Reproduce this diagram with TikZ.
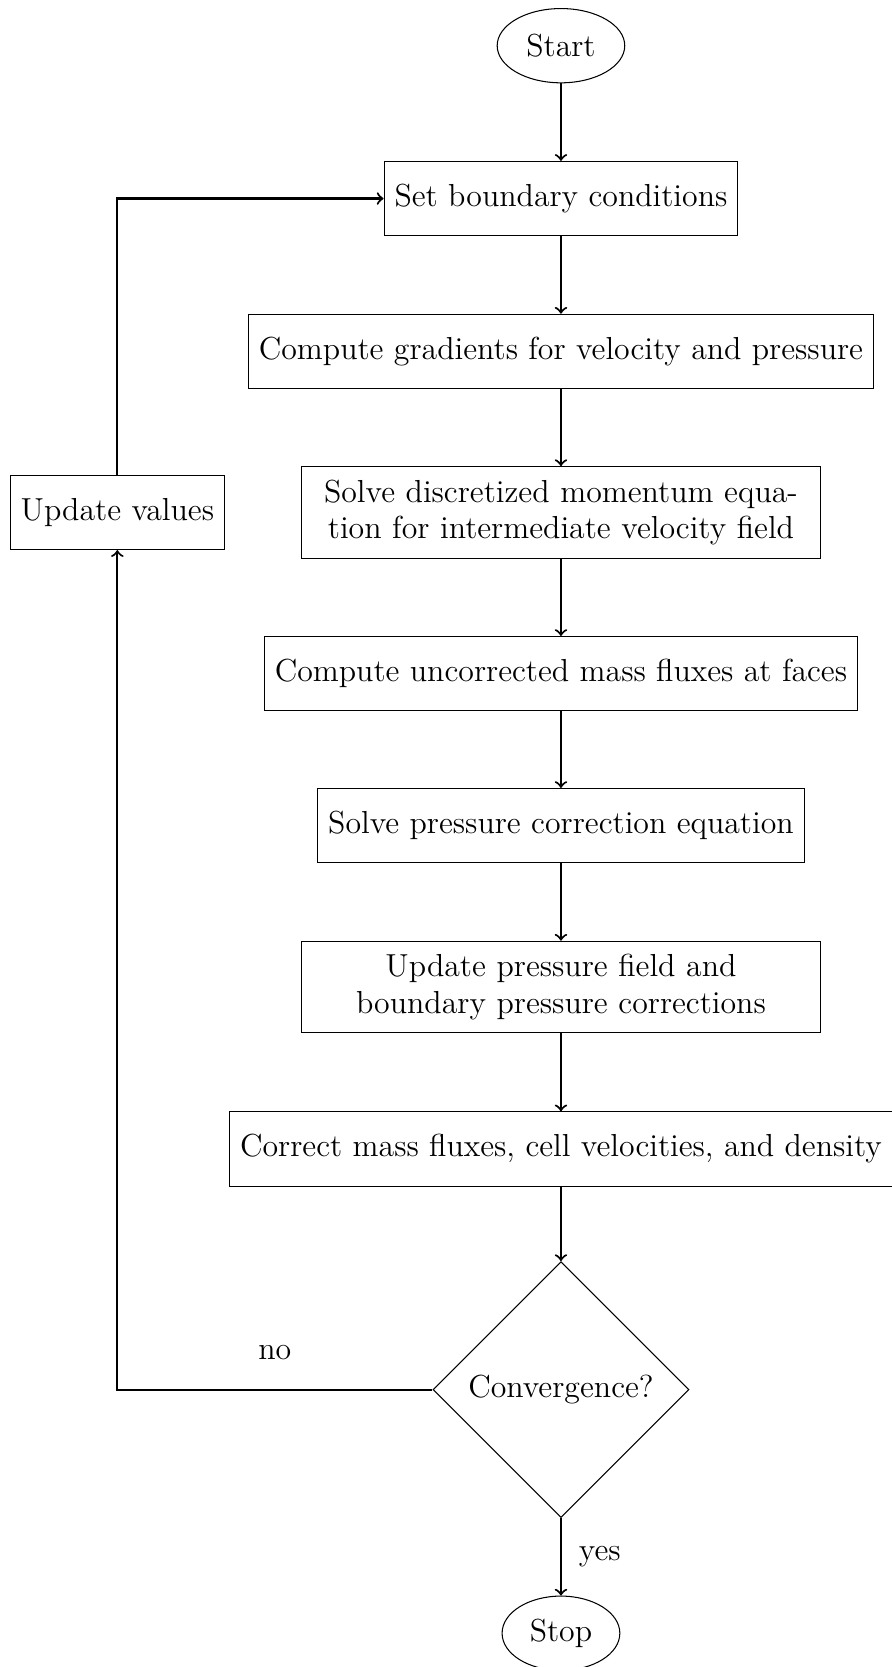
\documentclass[tikz,border=0pt,12pt]{standalone}
\usetikzlibrary{shapes.geometric}
\begin{document}
\begin{tikzpicture}[font=\fontsize{12.2}{14.05}\selectfont]
        \tikzstyle{terminal}=[ellipse, draw, minimum height=1cm]
        \tikzstyle{process}=[rectangle, draw, minimum height=1cm, align=center]
        \tikzstyle{processtw}=[process, text width=6.7cm, minimum height=1.235cm]
        \tikzstyle{decision}=[diamond, draw, aspect=1]
        \tikzstyle{arrow}=[thick, ->]

        \useasboundingbox (0,0) rectangle (12.01,-22.445);

        \node[terminal]  (start)    at (7.553,-0.615) {Start};
        \node[process]   (setbc)    at (7.553,-2.673) {Set boundary conditions};
        \node[process]   (grad)     at (7.553,-4.731) {Compute gradients for velocity and pressure};
        \node[processtw] (momentum) at (7.553,-6.90)  {Solve discretized momentum equation for intermediate velocity field};
        \node[process]   (flux)     at (7.553,-9.07)  {Compute uncorrected mass fluxes at faces};
        \node[process]   (pcorr)    at (7.553,-11.116) {Solve pressure correction equation};
        \node[processtw] (pupdate)  at (7.553,-13.29) {Update pressure field and\\ boundary pressure corrections};
        \node[process]   (correct)  at (7.553,-15.47) {Correct mass fluxes, cell velocities, and density};
        \node[decision]  (conv)     at (7.553,-18.71) {Convergence?};
        \node[terminal]  (stop)     at (7.553,-21.99) {Stop};
        \node[process]   (update)   at (1.58,-6.90)   {Update values};

        \draw[arrow] (start) -- (setbc);
        \draw[arrow] (setbc) -- (grad);
        \draw[arrow] (grad) -- (momentum);
        \draw[arrow] (momentum) -- (flux);
        \draw[arrow] (flux) -- (pcorr);
        \draw[arrow] (pcorr) -- (pupdate);
        \draw[arrow] (pupdate) -- (correct);
        \draw[arrow] (correct) -- (conv);
        \draw[arrow] (conv) -- node[right=2.5pt] {yes} (stop);
        \draw[arrow] (conv) -| node[pos=0.25, above=7pt] {no} (update);
        \draw[arrow] (update) |- (setbc);
    \end{tikzpicture}
\end{document}
